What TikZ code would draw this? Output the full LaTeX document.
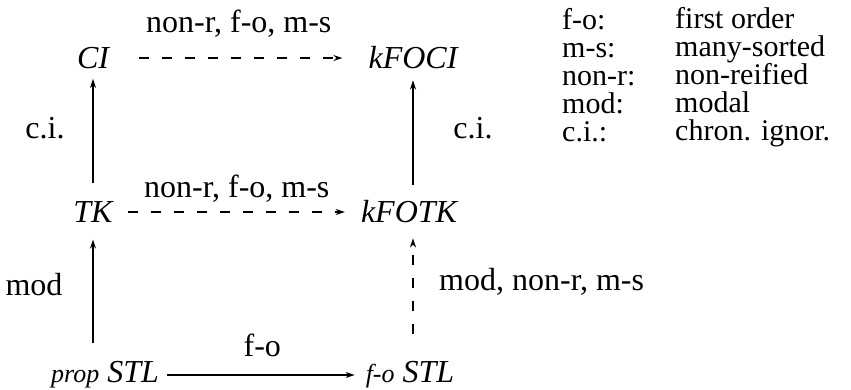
\documentclass[tikz,border=0pt]{standalone}
\usepackage{fontspec}
\setmainfont{Liberation Serif}
\usetikzlibrary{arrows.meta}
\begin{document}
\begin{tikzpicture}[x=1pt,y=-1pt,
  lab/.style={font=\fontsize{32}{36}\selectfont, inner sep=0pt},
  obj/.style={font=\fontsize{32}{36}\selectfont\itshape, inner sep=0pt},
  leg/.style={font=\fontsize{30}{34}\selectfont, inner sep=0pt, anchor=base west},
  arr/.style={-{Stealth[length=9pt,width=6pt]}, line width=1.3pt},
  dsh/.style={arr, dash pattern=on 10pt off 13pt}]
\useasboundingbox (0,0) rectangle (851,390);
% objects
\node[obj] (CI) at (93,58) {CI};
\node[obj] (kFOCI) at (413,58) {kFOCI};
\node[obj] (TK) at (93,212) {TK};
\node[obj] (kFOTK) at (409,212) {kFOTK};
\node[obj] (prop) at (105,375) {{\fontsize{26}{30}\selectfont prop} STL};
\node[obj] (fo) at (410,375) {{\fontsize{26}{30}\selectfont f-o} STL};
% horizontal arrows
\draw[dsh, shorten <=30pt, shorten >=26pt] (CI) -- (kFOCI)
  node[lab, pos=0.5, yshift=34pt] (l1) {non-r, f-o, m-s};
\draw[dsh, shorten <=15pt, shorten >=16pt] (TK) -- (kFOTK)
  node[lab, pos=0.5, yshift=23pt] (l2) {non-r, f-o, m-s};
\draw[arr, shorten <=8pt, shorten >=11pt] (prop) -- (fo)
  node[lab, pos=0.5, yshift=30pt] (l3) {f-o};
% vertical arrows
\draw[arr, shorten <=18pt, shorten >=10pt] (TK) -- (CI);
\draw[arr, shorten <=18pt, shorten >=17pt] (TK.south |- prop.north) coordinate (pn) -- (TK.south);
\draw[arr, shorten <=16pt, shorten >=11pt] (kFOCI.south |- kFOTK.north) coordinate (kn) -- (kFOCI.south);
\draw[dsh, shorten <=27pt, shorten >=15pt] (kFOCI.south |- fo.north) coordinate (fn) -- (kFOCI.south |- kFOTK.south);
% side labels
\node[lab] (c1) at (45,128) {c.i.};
\node[lab] (c2) at (473,128) {c.i.};
\node[lab] (m1) at (34,285) {mod};
\node[lab, anchor=west] (m2) at (439,282) {mod, non-r, m-s};
% legend
\node[leg] (k1) at (562,30) {f-o:};
\node[leg] (v1) at (675,29) {first order};
\node[leg] (k2) at (562,58) {m-s:};
\node[leg] (v2) at (675,57) {many-sorted};
\node[leg] (k3) at (562,86) {non-r:};
\node[leg] (v3) at (675,85) {non-reified};
\node[leg] (k4) at (562,114) {mod:};
\node[leg] (v4) at (675,113) {modal};
\node[leg] (k5) at (562,142) {c.i.:};
\node[leg] (v5) at (675,141) {chron. ignor.};
\end{tikzpicture}
\end{document}
